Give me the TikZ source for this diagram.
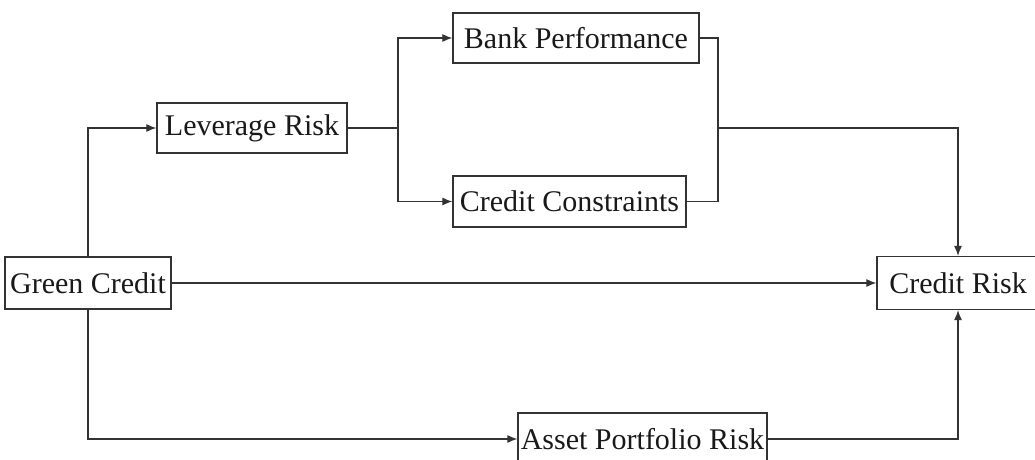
\documentclass[tikz,border=0pt]{standalone}
\usepackage{fontspec}
\setmainfont{Liberation Serif}
\usetikzlibrary{arrows.meta}
\begin{document}
\begin{tikzpicture}[x=1pt,y=-1pt,
  box/.style={draw=black!80,line width=1.3pt,rectangle,inner sep=0pt,
    font=\fontsize{30}{33}\selectfont,text=black!90},
  conn/.style={draw=black!80,line width=1.1pt},
  arr/.style={conn,-{Latex[length=10pt,width=8pt]}}]
\useasboundingbox (0,0) rectangle (1035,460);
\clip (0,0) rectangle (1035,460);
\node[box,minimum width=166pt,minimum height=52pt] (gc) at (88,283) {Green Credit};
\node[box,minimum width=190pt,minimum height=50pt] (lr) at (252,128) {Leverage Risk};
\node[box,minimum width=246pt,minimum height=50pt] (bp) at (576,38) {Bank Performance};
\node[box,minimum width=233pt,minimum height=51pt] (cc) at (569.5,201.5) {Credit Constraints};
\node[box,minimum width=162pt,minimum height=53pt] (cr) at (958,283) {Credit Risk};
\node[box,minimum width=249pt,minimum height=52pt] (ap) at (642.5,439) {Asset Portfolio Risk};
\coordinate (split) at (398,128);
\coordinate (join) at (718,128);
% Green Credit -> Leverage Risk
\draw[arr] (gc.north) |- (lr.west);
% Green Credit -> Credit Risk
\draw[arr] (gc.east) -- (cr.west);
% Green Credit -> Asset Portfolio Risk
\draw[arr] (gc.south) |- (ap.west);
% Asset Portfolio Risk -> Credit Risk
\draw[arr] (ap.east) -| (cr.south);
% Leverage Risk -> split
\draw[conn] (lr.east) -- (split);
\draw[arr] (split) |- (bp.west);
\draw[arr] (split) |- (cc.west);
% Bank Performance / Credit Constraints -> join
\draw[conn] (bp.east) -| (join);
\draw[conn] (cc.east) -| (join);
\draw[arr] (join) -| (cr.north);
\end{tikzpicture}
\end{document}
